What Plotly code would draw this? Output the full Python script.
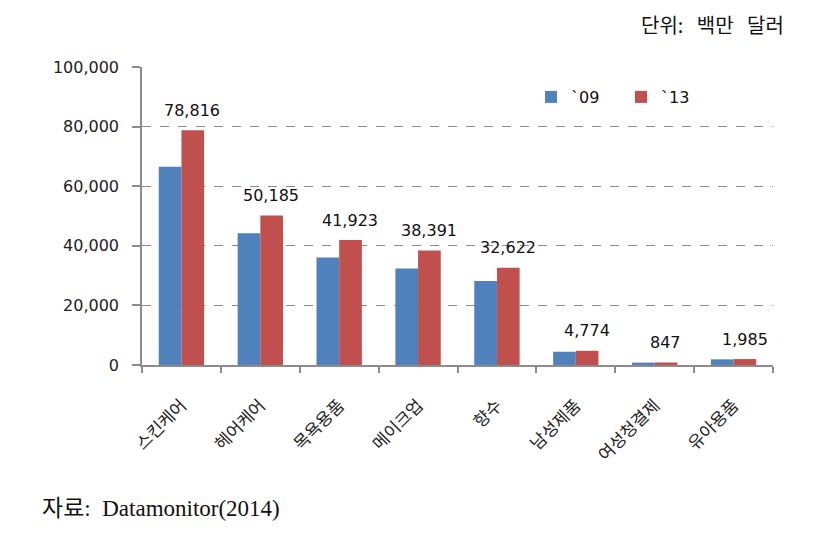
import plotly.graph_objects as go

categories = ["스킨케어", "헤어케어", "목욕용품", "메이크업", "향수", "남성제품", "여성청결제", "유아용품"]
values_09 = [66500, 44200, 36100, 32400, 28200, 4450, 800, 1900]
values_13 = [78816, 50185, 41923, 38391, 32622, 4774, 847, 1985]
series_names = ["`09", "`13"]
y_ticks = [0, 20000, 40000, 60000, 80000, 100000]

BLUE = "#4F81BD"
RED = "#C0504D"
GRAY = "#8c8c8c"
NUM_FONT = "DejaVu Sans"
KR_FONT = "Noto Sans CJK KR"

# page has an 8px body margin; work in figure pixels
OFF = 8
W, H = 822 - 2 * OFF, 546 - 2 * OFF
L, T = 142 - OFF, 67 - OFF
R = W - (773 - OFF)
B = H - (365 - OFF)
PW, PH = W - L - R, H - T - B


def px(xp):
    return (xp - OFF - L) / PW


def py(yp):
    return 1 - (yp - OFF - T) / PH


fig = go.Figure()
fig.add_trace(go.Bar(x=categories, y=values_09, name=series_names[0],
                     marker=dict(color=BLUE, line=dict(width=0))))
fig.add_trace(go.Bar(x=categories, y=values_13, name=series_names[1],
                     marker=dict(color=RED, line=dict(width=0))))

# data labels above the `13 bars
for c, v in zip(categories, values_13):
    fig.add_annotation(x=c, y=v, xref="x", yref="y", text=f"{v:,}",
                       showarrow=False, xshift=11, yshift=20, yanchor="middle",
                       font=dict(family=NUM_FONT, size=16, color="#111"))

fig.add_annotation(x=px(786), y=py(8), xref="paper", yref="paper", text="단위:   백만   달러",
                   showarrow=False, xanchor="right", yanchor="top",
                   font=dict(family=KR_FONT, size=20, color="#111"))
fig.add_annotation(x=px(40), y=py(508), xref="paper", yref="paper",
                   text="자료:  Datamonitor(2014)", showarrow=False,
                   xanchor="left", yanchor="middle",
                   font=dict(family="Liberation Serif, " + KR_FONT, size=23, color="#111"))

fig.update_layout(
    width=W, height=H,
    margin=dict(l=L, r=R, t=T, b=B, pad=0),
    paper_bgcolor="white", plot_bgcolor="white",
    barmode="group", bargap=0.425, bargroupgap=0,
    showlegend=True,
    legend=dict(orientation="h", x=px(531), y=py(97),
                xanchor="left", yanchor="middle", entrywidth=45,
                font=dict(family=NUM_FONT, size=16, color="#111"),
                bgcolor="rgba(0,0,0,0)", traceorder="normal"),
    xaxis=dict(showline=True, linecolor=GRAY, linewidth=1.5, ticks="outside",
               tickson="boundaries", ticklen=6, tickcolor=GRAY, tickwidth=1.5,
               tickangle=-45, showgrid=False, ticklabelstandoff=22,
               tickfont=dict(family=KR_FONT, size=17, color="#222")),
    yaxis=dict(range=[0, 100000], tickvals=y_ticks, tickformat=",",
               showline=True, linecolor=GRAY, linewidth=1.5, ticks="outside",
               ticklen=8, tickcolor=GRAY, tickwidth=1.5,
               showgrid=True, gridcolor=GRAY, griddash="dash", gridwidth=1,
               zeroline=False, ticklabelstandoff=10,
               tickfont=dict(family=NUM_FONT, size=16, color="#222")),
)

fig.write_html("out.html")
